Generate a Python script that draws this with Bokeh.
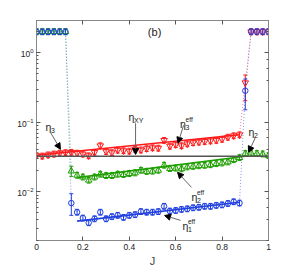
from bokeh.plotting import figure
from bokeh.models import (ColumnDataSource, Whisker, TeeHead, Arrow, NormalHead, Label,
                          LinearAxis, LogAxis, FixedTicker, Span, CustomJSTickFormatter)
from bokeh.embed import file_html
from bokeh.resources import INLINE

# ---------------- data ----------------
J = [0.0, 0.025, 0.05, 0.075, 0.1, 0.125, 0.15, 0.175, 0.2, 0.225,
     0.25, 0.275, 0.3, 0.325, 0.35, 0.375, 0.4, 0.425, 0.45, 0.475,
     0.5, 0.525, 0.55, 0.575, 0.6, 0.625, 0.65, 0.675, 0.7, 0.725,
     0.75, 0.775, 0.8, 0.825, 0.85, 0.875, 0.9, 0.925, 0.95, 0.975, 1.0]

eta1 = [2.0, 2.0, 2.0, 2.0, 2.0, 2.0, 0.0069, 0.0051, 0.0042, 0.0036,
        0.0041, 0.0051, 0.0041, 0.0044, 0.0046, 0.0043, 0.0046, 0.0047, 0.0052, 0.0051,
        0.0051, 0.0052, 0.0062, 0.0053, 0.0054, 0.0056, 0.0057, 0.0059, 0.0060, 0.0062,
        0.0062, 0.0064, 0.0065, 0.0068, 0.0072, 0.0069, 0.284, 2.0, 2.0, 2.0, 2.0]

eta2 = [2.0, 2.0, 2.0, 2.0, 2.0, 2.0, 0.0199, 0.0173, 0.0163, 0.0147,
        0.0163, 0.0179, 0.0171, 0.0171, 0.0179, 0.0177, 0.0183, 0.0187, 0.0204, 0.0196,
        0.0198, 0.0204, 0.0241, 0.0216, 0.0219, 0.0214, 0.0228, 0.0232, 0.0237, 0.0240,
        0.0245, 0.0254, 0.0260, 0.0269, 0.0290, 0.0310, 0.0355, 0.0360, 0.0355, 0.0350, 0.0332]

eta3 = [0.0332, 0.0327, 0.0340, 0.0350, 0.0360, 0.0366, 0.0370, 0.0360, 0.0350, 0.0330,
        0.0370, 0.0460, 0.0380, 0.0366, 0.0397, 0.0390, 0.0385, 0.0410, 0.0400, 0.0418,
        0.0430, 0.0425, 0.0550, 0.0454, 0.0477, 0.0460, 0.0490, 0.0510, 0.0520, 0.0530,
        0.0540, 0.0550, 0.0570, 0.0610, 0.0640, 0.0660, 0.370, 2.0, 2.0, 2.0, 2.0]

# large error bars (J -> (lower, upper))
eta1_err = {0.15: (0.0046, 0.0094), 0.9: (0.151, 0.418)}
eta2_err = {0.15: (0.0167, 0.0233)}
eta3_err = {0.9: (0.204, 0.478)}

# fitted lines (endpoints)
fit1_J, fit1 = [0.175, 0.875], [0.0038, 0.0071]
fit2_J, fit2 = [0.175, 0.9], [0.0160, 0.0325]
fit3_J, fit3 = [0.0, 0.875], [0.0335, 0.066]

eta_xy = 0.0325

x_ticks = [0, 0.2, 0.4, 0.6, 0.8, 1]
x_tick_labels = {0: "0", 0.2: "0.2", 0.4: "0.4", 0.6: "0.6", 0.8: "0.8", 1: "1"}

# ---------------- style ----------------
RED = "#ff1a1a"
GREEN = "#1e9e00"
BLUE = "#2040e0"
FONT = "Liberation Sans"
SMALL_BAR = 1.10

p = figure(frame_width=232, frame_height=220, x_range=(0, 1), y_range=(0.002, 2.9),
           y_axis_type="log", output_backend="svg", toolbar_location=None,
           min_border_left=36, min_border_right=18, min_border_top=20, min_border_bottom=22)
p.grid.visible = False
p.outline_line_color = "#888888"
p.background_fill_color = "white"
p.border_fill_color = "white"

def style_axis(ax):
    ax.axis_line_color = "#888888"
    ax.major_tick_line_color = "#555555"
    ax.minor_tick_line_color = "#555555"
    ax.major_tick_in = 4
    ax.major_tick_out = 0
    ax.minor_tick_in = 2
    ax.minor_tick_out = 0
    ax.major_label_text_font = FONT
    ax.major_label_text_font_size = "8.5px"
    ax.major_label_text_color = "#222222"
    ax.major_label_standoff = 3

xa = p.xaxis[0]
style_axis(xa)
xa.ticker = FixedTicker(ticks=x_ticks, minor_ticks=[])
xa.major_label_overrides = x_tick_labels
xa.axis_label = "J"
xa.axis_label_text_font = FONT
xa.axis_label_text_font_style = "normal"
xa.axis_label_text_font_size = "11px"
xa.axis_label_standoff = 2

ya = p.yaxis[0]
style_axis(ya)

blank = CustomJSTickFormatter(code="return ''")
top = LinearAxis(ticker=FixedTicker(ticks=x_ticks, minor_ticks=[]), formatter=blank)
style_axis(top)
p.add_layout(top, "above")
right = LogAxis(formatter=CustomJSTickFormatter(code="return ''"))
style_axis(right)
p.add_layout(right, "right")

# horizontal eta_XY line
p.add_layout(Span(location=eta_xy, dimension="width", line_color="#555555", line_width=1.3))

def series(vals, errs, color, marker, size):
    src = ColumnDataSource(dict(x=J, y=vals))
    p.line("x", "y", source=src, line_color=color, line_alpha=0.55, line_width=1, line_dash="1 2")
    lo = [errs[j][0] if j in errs else v / SMALL_BAR for j, v in zip(J, vals)]
    hi = [errs[j][1] if j in errs else v * SMALL_BAR for j, v in zip(J, vals)]
    esrc = ColumnDataSource(dict(x=J, lo=lo, hi=hi))
    w = Whisker(base="x", lower="lo", upper="hi", source=esrc, dimension="height",
                line_color=color, line_width=1,
                lower_head=TeeHead(size=4, line_color=color, line_width=1),
                upper_head=TeeHead(size=4, line_color=color, line_width=1))
    p.add_layout(w)
    p.scatter("x", "y", source=src, marker=marker, size=size, fill_color=None,
              line_color=color, line_width=1)

# fit lines
p.line(fit3_J, fit3, line_color=RED, line_width=1.6)
p.line(fit2_J, fit2, line_color=GREEN, line_width=1.6)
p.line(fit1_J, fit1, line_color=BLUE, line_width=1.6)

series(eta3, eta3_err, RED, "inverted_triangle", 6.5)
series(eta2, eta2_err, GREEN, "triangle", 6.5)
series(eta1, eta1_err, BLUE, "circle", 5.5)

# annotations
def eta_label(x, y, sub, sup=None):
    p.add_layout(Label(x=x, y=y, text="η", text_font=FONT, text_font_size="10.5px",
                       text_color="#222222", text_baseline="alphabetic"))
    p.add_layout(Label(x=x, y=y, x_offset=5.5, y_offset=-3, text=sub, text_font=FONT,
                       text_font_size="7px", text_color="#222222", text_baseline="alphabetic"))
    if sup:
        p.add_layout(Label(x=x, y=y, x_offset=5.5, y_offset=5, text=sup, text_font=FONT,
                           text_font_size="6.5px", text_color="#222222", text_baseline="alphabetic"))

def arrow(x0, y0, x1, y1):
    p.add_layout(Arrow(x_start=x0, y_start=y0, x_end=x1, y_end=y1,
                       line_color="#666666", line_width=1,
                       end=NormalHead(size=6, fill_color="black", line_color="black", line_width=1)))

eta_label(0.397, 0.118, "XY")
arrow(0.427, 0.0968, 0.427, 0.0345)
eta_label(0.039, 0.0847, "3")
arrow(0.060, 0.0718, 0.103, 0.0409)
eta_label(0.619, 0.0936, "3", "eff")
arrow(0.634, 0.0905, 0.610, 0.0499)
eta_label(0.914, 0.0718, "2")
arrow(0.944, 0.0609, 0.914, 0.0370)
eta_label(0.668, 0.00833, "2", "eff")
arrow(0.668, 0.0116, 0.608, 0.0191)
eta_label(0.629, 0.00318, "1", "eff")
arrow(0.621, 0.00389, 0.552, 0.00458)

p.add_layout(Label(x=0.509, y=1.98, text="(b)", text_font=FONT, text_font_size="11px",
                   text_align="center", text_baseline="middle", text_color="#222222"))

open("out.html", "w").write(file_html(p, INLINE))
